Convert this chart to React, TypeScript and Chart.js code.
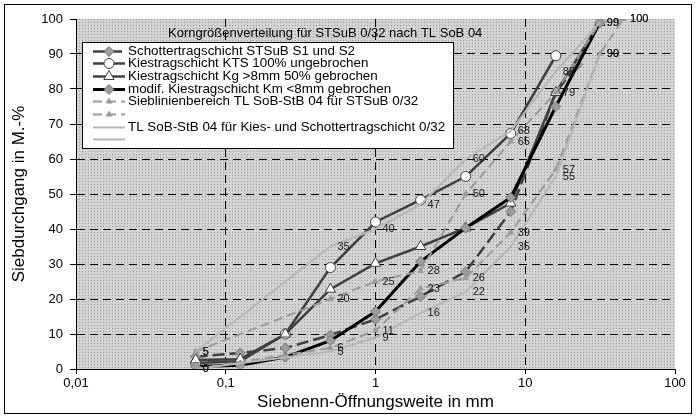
import React, { useEffect, useRef } from 'react';
import { Chart, registerables } from 'chart.js';

Chart.register(...registerables);

const FONT = 'Arial, "Liberation Sans", Helvetica, sans-serif';

// ---------- data ----------
const sieveSizes = [0.063, 0.125, 0.25, 0.5, 1, 2, 4, 8, 16, 22.4, 31.5, 45];

const seriesNames = [
  'Schottertragschicht STSuB S1 und S2',
  'Kiestragschicht KTS 100% ungebrochen',
  'Kiestragschicht Kg >8mm 50% gebrochen',
  'modif. Kiestragschicht Km <8mm gebrochen',
  'Sieblinienbereich TL SoB-StB 04 für STSuB 0/32',
  '',
  'TL SoB-StB 04 für Kies- und Schottertragschicht 0/32',
  '',
];

const stsubS1S2 = [3.5, 4.6, 6, 9.7, 14.2, 20.7, 27.8, 45, 79, 87, 99, null];
const ktsUngebrochen = [1.7, 2.2, 10, 29, 42, 48.3, 55, 67.3, 89.5, null, null, null];
const kgGebrochen = [2.6, 2.8, 10, 22.8, 30.2, 35, 40.3, 47.4, 79, null, 99, null];
const kmGebrochen = [0.7, 1.1, 3.4, 8.1, 16.4, 30.7, 40.3, 49, 75, null, 99, null];
const stsubUpper = [5, null, null, 20, 25, 28, 50, 65, 79, null, 99, 100];
const stsubLower = [0, null, null, 6, 11, 23, 26, 39, 57, null, 90, 100];
const ktsUpper = [5, null, null, 35, 40, 47, 60, 68, 85, null, 99, null];
const ktsLower = [0, null, null, 5, 9, 16, 22, 35, 55, null, 90, null];

const chartTitle = 'Korngrößenverteilung für STSuB 0/32 nach TL SoB 04';
const xAxisTitle = 'Siebnenn-Öffnungsweite in mm';
const yAxisTitle = 'Siebdurchgang in M.-%';
const xTickValues = [0.01, 0.1, 1, 10, 100];
const xTickLabels = ['0,01', '0,1', '1', '10', '100'];
const yMin = 0;
const yMax = 100;
const yStep = 10;

// ---------- helpers ----------
const toPoints = (vals: (number | null)[]) =>
  sieveSizes
    .map((x, i) => ({ x, y: vals[i] }))
    .filter((p) => p.y !== null && p.y !== undefined) as { x: number; y: number }[];

function drawMarker(
  ctx: CanvasRenderingContext2D,
  style: string,
  x: number,
  y: number,
  r: number,
  fill: string,
  stroke: string,
  lw: number
) {
  if (r <= 0) return;
  ctx.save();
  ctx.setLineDash([]);
  ctx.beginPath();
  if (style === 'rectRot') {
    ctx.moveTo(x, y - r);
    ctx.lineTo(x + r, y);
    ctx.lineTo(x, y + r);
    ctx.lineTo(x - r, y);
    ctx.closePath();
  } else if (style === 'circle') {
    ctx.arc(x, y, r, 0, Math.PI * 2);
  } else if (style === 'triangle') {
    let rad = 0;
    ctx.moveTo(x + Math.sin(rad) * r, y - Math.cos(rad) * r);
    rad += (2 * Math.PI) / 3;
    ctx.lineTo(x + Math.sin(rad) * r, y - Math.cos(rad) * r);
    rad += (2 * Math.PI) / 3;
    ctx.lineTo(x + Math.sin(rad) * r, y - Math.cos(rad) * r);
    ctx.closePath();
  }
  ctx.fillStyle = fill;
  ctx.fill();
  if (lw > 0) {
    ctx.lineWidth = lw;
    ctx.strokeStyle = stroke;
    ctx.stroke();
  }
  ctx.restore();
}

export default function App() {
  const canvasRef = useRef<HTMLCanvasElement | null>(null);

  useEffect(() => {
    const canvas = canvasRef.current;
    if (!canvas) return;

    // dotted plot-area pattern
    const tile = document.createElement('canvas');
    tile.width = 3;
    tile.height = 3;
    const tctx = tile.getContext('2d')!;
    tctx.fillStyle = '#d3d3d3';
    tctx.fillRect(0, 0, 3, 3);
    tctx.fillStyle = '#9c9c9c';
    tctx.fillRect(1, 1, 1, 1);
    const pattern = canvas.getContext('2d')!.createPattern(tile, 'repeat');

    const dark = '#404040';
    const midGray = '#9a9a9a';
    const lightGray = '#b6b6b6';

    const datasets: any[] = [
      {
        label: seriesNames[0],
        data: toPoints(stsubS1S2),
        borderColor: dark,
        borderWidth: 2.5,
        borderDash: [12, 5],
        pointStyle: 'rectRot',
        pointRadius: 5,
        pointBackgroundColor: '#9c9c9c',
        pointBorderColor: '#787878',
        pointBorderWidth: 1,
      },
      {
        label: seriesNames[1],
        data: toPoints(ktsUngebrochen),
        borderColor: dark,
        borderWidth: 2.5,
        borderDash: [],
        pointStyle: 'circle',
        pointRadius: 5,
        pointBackgroundColor: '#ffffff',
        pointBorderColor: dark,
        pointBorderWidth: 1,
      },
      {
        label: seriesNames[2],
        data: toPoints(kgGebrochen),
        borderColor: dark,
        borderWidth: 2.5,
        borderDash: [],
        pointStyle: 'triangle',
        pointRadius: 6,
        pointBackgroundColor: '#ffffff',
        pointBorderColor: dark,
        pointBorderWidth: 1,
      },
      {
        label: seriesNames[3],
        data: toPoints(kmGebrochen),
        borderColor: '#000000',
        borderWidth: 3,
        borderDash: [],
        pointStyle: 'rectRot',
        pointRadius: 5,
        pointBackgroundColor: '#9c9c9c',
        pointBorderColor: '#787878',
        pointBorderWidth: 1,
      },
      {
        label: seriesNames[4],
        data: toPoints(stsubUpper),
        borderColor: midGray,
        borderWidth: 2,
        borderDash: [9, 5],
        pointStyle: 'triangle',
        pointRadius: 4,
        pointBackgroundColor: midGray,
        pointBorderColor: midGray,
        pointBorderWidth: 0,
        showValues: true,
      },
      {
        label: seriesNames[5],
        data: toPoints(stsubLower),
        borderColor: midGray,
        borderWidth: 2,
        borderDash: [9, 5],
        pointStyle: 'triangle',
        pointRadius: 4,
        pointBackgroundColor: midGray,
        pointBorderColor: midGray,
        pointBorderWidth: 0,
        showValues: true,
      },
      {
        label: seriesNames[6],
        data: toPoints(ktsUpper),
        borderColor: lightGray,
        borderWidth: 2,
        borderDash: [],
        pointStyle: 'circle',
        pointRadius: 0,
        pointBackgroundColor: lightGray,
        pointBorderColor: lightGray,
        pointBorderWidth: 0,
        showValues: true,
      },
      {
        label: seriesNames[7],
        data: toPoints(ktsLower),
        borderColor: lightGray,
        borderWidth: 2,
        borderDash: [],
        pointStyle: 'circle',
        pointRadius: 0,
        pointBackgroundColor: lightGray,
        pointBorderColor: lightGray,
        pointBorderWidth: 0,
        showValues: true,
      },
    ];
    const n = datasets.length;
    datasets.forEach((d, i) => {
      d.order = n - i; // first series at the bottom, like the original
      d.fill = false;
      d.tension = 0;
      d.pointHoverRadius = d.pointRadius;
    });

    const backgroundPlugin = {
      id: 'bgPattern',
      beforeDraw(chart: any) {
        const { ctx, chartArea } = chart;
        ctx.save();
        ctx.fillStyle = '#ffffff';
        ctx.fillRect(0, 0, chart.width, chart.height);
        ctx.fillStyle = pattern || '#cccccc';
        ctx.fillRect(chartArea.left, chartArea.top, chartArea.right - chartArea.left, chartArea.bottom - chartArea.top);
        ctx.restore();
      },
    };

    const valueLabelPlugin = {
      id: 'valueLabels',
      afterDatasetsDraw(chart: any) {
        const ctx = chart.ctx;
        ctx.save();
        ctx.font = `11px ${FONT}`;
        ctx.fillStyle = '#1a1a1a';
        ctx.textAlign = 'left';
        ctx.textBaseline = 'middle';
        chart.data.datasets.forEach((ds: any, i: number) => {
          if (!ds.showValues) return;
          const meta = chart.getDatasetMeta(i);
          meta.data.forEach((pt: any, j: number) => {
            const v = ds.data[j].y;
            ctx.fillText(String(v), pt.x + 7, pt.y);
          });
        });
        ctx.restore();
      },
    };

    const legendTitlePlugin = {
      id: 'boxLegend',
      afterDatasetsDraw(chart: any) {
        const { ctx, chartArea } = chart;
        ctx.save();
        // chart title inside the plot area
        ctx.font = `13px ${FONT}`;
        ctx.fillStyle = '#000';
        ctx.textAlign = 'left';
        ctx.textBaseline = 'middle';
        ctx.fillText(chartTitle, chartArea.left + 92, chartArea.top + 14);

        // legend box
        const x0 = chartArea.left + 6;
        const y0 = chartArea.top + 23;
        const w = 371;
        const h = 106;
        ctx.fillStyle = '#ffffff';
        ctx.fillRect(x0, y0, w, h);
        ctx.strokeStyle = '#000';
        ctx.lineWidth = 1;
        ctx.strokeRect(x0 + 0.5, y0 + 0.5, w, h);

        chart.data.datasets.forEach((ds: any, i: number) => {
          const cy = Math.round(y0 + 8.7 + i * 12.66) + 0.5;
          ctx.save();
          ctx.strokeStyle = ds.borderColor;
          ctx.lineWidth = ds.borderWidth;
          ctx.setLineDash(ds.borderDash || []);
          ctx.beginPath();
          ctx.moveTo(x0 + 11, cy);
          ctx.lineTo(x0 + 43, cy);
          ctx.stroke();
          ctx.restore();
          drawMarker(ctx, ds.pointStyle, x0 + 27, cy, ds.pointRadius, ds.pointBackgroundColor, ds.pointBorderColor, ds.pointBorderWidth);
          if (ds.label) {
            ctx.font = `13.4px ${FONT}`;
            ctx.fillStyle = '#000';
            ctx.textAlign = 'left';
            ctx.textBaseline = 'middle';
            ctx.fillText(ds.label, x0 + 46, cy);
          }
        });
        ctx.restore();
      },
    };

    const framePlugin = {
      id: 'outerFrame',
      afterDraw(chart: any) {
        const ctx = chart.ctx;
        ctx.save();
        ctx.strokeStyle = '#000';
        ctx.lineWidth = 1;
        ctx.strokeRect(4.5, 4.5, 687, 409);
        ctx.restore();
      },
    };

    const transparent = 'rgba(0,0,0,0)';

    const chart = new Chart(canvas, {
      type: 'line',
      data: { datasets },
      options: {
        animation: false,
        responsive: false,
        devicePixelRatio: 1,
        events: [],
        layout: { padding: { left: 0, right: 23, top: 19, bottom: 0 } },
        plugins: {
          legend: { display: false },
          tooltip: { enabled: false },
          title: { display: false },
        },
        scales: {
          x: {
            type: 'logarithmic',
            min: xTickValues[0],
            max: xTickValues[xTickValues.length - 1],
            afterBuildTicks: (scale: any) => {
              scale.ticks = xTickValues.map((v) => ({ value: v }));
            },
            afterFit: (scale: any) => {
              scale.height = 49;
            },
            ticks: {
              autoSkip: false,
              maxRotation: 0,
              minRotation: 0,
              padding: 2,
              color: '#000',
              font: { family: FONT, size: 13 },
              callback: (v: any) => {
                const idx = xTickValues.findIndex((t) => Math.abs(t - Number(v)) < 1e-9);
                return idx >= 0 ? xTickLabels[idx] : '';
              },
            },
            grid: {
              color: (c: any) => {
                const v = c.tick ? c.tick.value : null;
                return v === xTickValues[0] || v === xTickValues[xTickValues.length - 1] ? transparent : '#000';
              },
              lineWidth: 1,
              drawTicks: true,
              tickLength: 5,
              tickColor: '#000',
              tickWidth: 1,
              tickBorderDash: [],
            },
            border: { display: true, color: '#000', width: 1, dash: [8, 5] },
            title: {
              display: true,
              text: xAxisTitle,
              color: '#000',
              font: { family: FONT, size: 17 },
              padding: { top: 0, bottom: 5 },
            },
          },
          y: {
            type: 'linear',
            min: yMin,
            max: yMax,
            afterFit: (scale: any) => {
              scale.width = 76;
            },
            ticks: {
              stepSize: yStep,
              padding: 7,
              color: '#000',
              font: { family: FONT, size: 13 },
            },
            grid: {
              color: (c: any) => {
                const v = c.tick ? c.tick.value : null;
                return v === yMin || v === yMax ? transparent : '#000';
              },
              lineWidth: 1,
              drawTicks: true,
              tickLength: 6,
              tickColor: '#000',
              tickWidth: 1,
              tickBorderDash: [],
            },
            border: { display: true, color: '#000', width: 1, dash: [8, 5] },
            title: {
              display: true,
              text: yAxisTitle,
              color: '#000',
              font: { family: FONT, size: 17 },
              padding: { top: 9, bottom: 0 },
            },
          },
        },
      } as any,
      plugins: [backgroundPlugin, valueLabelPlugin, legendTitlePlugin, framePlugin],
    });

    return () => {
      chart.destroy();
    };
  }, []);

  return (
    <div style={{ position: 'fixed', left: 0, top: 0, width: 698, height: 418, background: '#fff' }}>
      <canvas ref={canvasRef} width={698} height={418} style={{ width: 698, height: 418, display: 'block' }} />
    </div>
  );
}
